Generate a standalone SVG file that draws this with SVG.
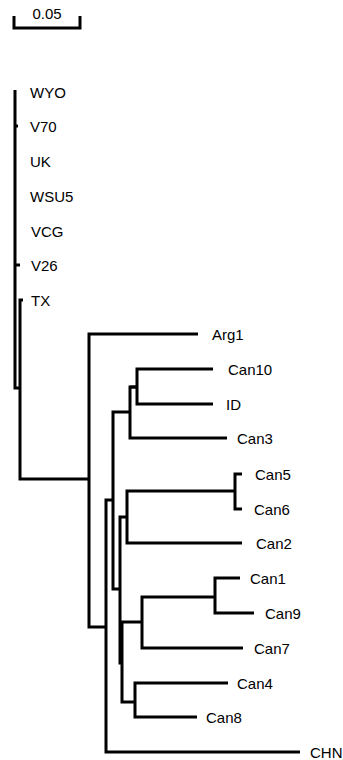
<svg xmlns="http://www.w3.org/2000/svg" width="343" height="760" viewBox="0 0 343 760">
<style>
text{font-family:"Liberation Sans",Arial,sans-serif;font-size:15px;fill:#000}
.c path{fill:none;stroke:#000;stroke-width:3;stroke-linejoin:miter;stroke-linecap:butt}
</style>
<rect width="343" height="760" fill="#fff"/>
<g id="scale">
<path d="M14,16 V28 H80 V16" fill="none" stroke="#000" stroke-width="3"/>
<text x="47" y="19" text-anchor="middle">0.05</text>
</g>
<g class="c" id="connectors">
<path d="M15,90 V388 H20"/>
<path d="M15,126 H18"/>
<path d="M15,265 H20"/>
<path d="M23,300 H20 V479 H89"/>
<path d="M198,334 H89 V627 H106"/>
<path d="M113,500 H106 V752 H300"/>
<path d="M130,412 H113 V589 H120"/>
<path d="M130,387 H137"/>
<path d="M137,387 H130 V438 H227"/>
<path d="M213,369 H137 V404 H213"/>
<path d="M127,517 H120 V663 H122"/>
<path d="M235,491 H127 V543 H242"/>
<path d="M242,474 H235 V509 H242"/>
<path d="M142,622 H122 V702 H135"/>
<path d="M215,597 H142 V648 H243"/>
<path d="M240,578 H215 V613 H254"/>
<path d="M228,683 H135 V717 H197"/>
</g>
<g id="WYO"><text x="30" y="97.5">WYO</text></g>
<g id="V70"><text x="30" y="131.5">V70</text></g>
<g id="UK"><text x="30" y="166.5">UK</text></g>
<g id="WSU5"><text x="30" y="201.5">WSU5</text></g>
<g id="VCG"><text x="31" y="236.5">VCG</text></g>
<g id="V26"><text x="31" y="270.5">V26</text></g>
<g id="TX"><text x="31" y="305.5">TX</text></g>
<g id="Arg1"><text x="212" y="339.5">Arg1</text></g>
<g id="Can10"><text x="228" y="374.5">Can10</text></g>
<g id="ID"><text x="226" y="409.5">ID</text></g>
<g id="Can3"><text x="237" y="443.5">Can3</text></g>
<g id="Can5"><text x="255" y="479.5">Can5</text></g>
<g id="Can6"><text x="254" y="514.5">Can6</text></g>
<g id="Can2"><text x="256" y="548.5">Can2</text></g>
<g id="Can1"><text x="250" y="583.5">Can1</text></g>
<g id="Can9"><text x="265" y="618.5">Can9</text></g>
<g id="Can7"><text x="254" y="653.5">Can7</text></g>
<g id="Can4"><text x="237" y="688.5">Can4</text></g>
<g id="Can8"><text x="206" y="722.5">Can8</text></g>
<g id="CHN"><text x="310" y="757.5">CHN</text></g>
</svg>
